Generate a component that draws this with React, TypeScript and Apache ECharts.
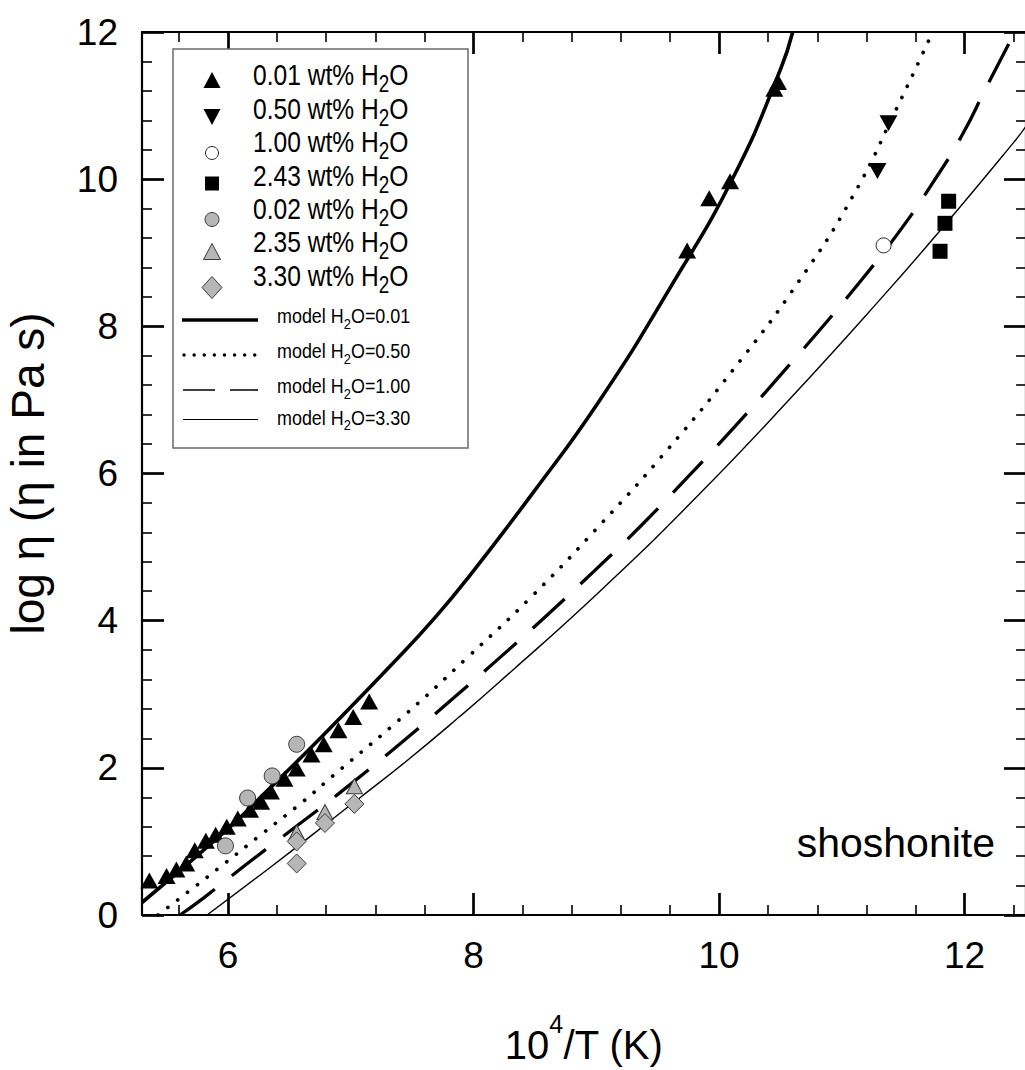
import React, { useEffect, useRef } from "react";
import * as echarts from "echarts";

const FONT = "'Liberation Sans', Arial, sans-serif";

// Axis ticks
const xMajorTicks = [6, 8, 10, 12];
const xMinorTicks = [5.6, 6.4, 6.8, 7.2, 7.6, 8.4, 8.8, 9.2, 9.6, 10.4, 10.8, 11.2, 11.6, 12.4];

// Measured data (x = 10^4/T, y = log eta)
const tri001 = [
  [5.36, 0.47], [5.5, 0.53], [5.58, 0.62], [5.66, 0.7], [5.73, 0.88], [5.82, 1.01], [5.9, 1.09],
  [5.99, 1.2], [6.08, 1.31], [6.18, 1.43], [6.27, 1.54], [6.35, 1.68], [6.46, 1.85], [6.56, 1.99],
  [6.68, 2.18], [6.78, 2.32], [6.9, 2.51], [7.02, 2.69], [7.15, 2.9],
  [9.74, 9.03], [9.92, 9.74], [10.09, 9.97], [10.45, 11.23], [10.48, 11.32],
];
const inv050 = [[11.29, 10.11], [11.38, 10.76]];
const open100 = [[11.34, 9.1]];
const sq243 = [[11.87, 9.7], [11.84, 9.4], [11.8, 9.02]];
const gcirc002 = [[5.98, 0.94], [6.16, 1.59], [6.36, 1.89], [6.56, 2.32]];
const gtri235 = [[6.56, 1.12], [6.79, 1.4], [7.03, 1.75]];
const gdia330 = [[6.56, 1.0], [6.56, 0.7], [6.79, 1.25], [7.03, 1.51]];

// Model curves
const model001 = [
  [5.3, 0.17], [6.0, 1.17], [6.26, 1.59], [6.78, 2.45], [7.4, 3.52], [7.67, 4.01], [7.94, 4.55],
  [8.49, 5.75], [9.03, 7.0], [9.6, 8.52], [10.12, 10.04], [10.5, 11.49], [10.6, 12.0],
];
const model050 = [
  [5.43, 0.0], [5.68, 0.32], [5.98, 0.71], [6.29, 1.12], [6.61, 1.54], [6.84, 1.87], [7.455, 2.74],
  [7.944, 3.49], [8.487, 4.35], [9.03, 5.3], [9.573, 6.31], [10.115, 7.41], [10.645, 8.6],
  [11.09, 9.77], [11.44, 10.94], [11.74, 12.0],
];
const model100 = [
  [5.61, 0.0], [5.8, 0.23], [6.19, 0.74], [6.6, 1.26], [6.91, 1.66], [7.39, 2.31], [7.79, 2.88],
  [8.175, 3.44], [8.57, 4.03], [8.98, 4.67], [9.37, 5.3], [9.75, 5.96], [10.13, 6.64], [10.48, 7.3],
  [10.82, 7.95], [11.15, 8.61], [11.46, 9.27], [11.74, 9.95], [11.98, 10.6], [12.18, 11.26], [12.41, 12.0],
];
const model330 = [
  [5.83, 0.0], [6.37, 0.68], [6.91, 1.38], [7.08, 1.6], [7.46, 2.1], [7.89, 2.7], [8.22, 3.18],
  [9.03, 4.4], [9.84, 5.72], [10.58, 7.02], [11.32, 8.38], [11.8, 9.3], [12.4, 10.5], [12.5, 10.72],
];

const symbolLabels = ["0.01", "0.50", "1.00", "2.43", "0.02", "2.35", "3.30"];
const modelLabels = ["0.01", "0.50", "1.00", "3.30"];

const GRAY = "#b6b6b6";
const GRAY_EDGE = "#3a3a3a";

function legendSymbolText(label: string, y: number) {
  return {
    type: "text",
    x: 253,
    y,
    scaleX: 0.82,
    z: 11,
    style: {
      text: `{a|${label} wt% H}{b|2}{a|O}`,
      align: "left",
      verticalAlign: "middle",
      rich: {
        a: { fontSize: 30, fontFamily: FONT, lineHeight: 41, fill: "#000" },
        b: { fontSize: 23, fontFamily: FONT, lineHeight: 18, verticalAlign: "bottom", fill: "#000" },
      },
    },
  };
}

function legendModelText(label: string, y: number) {
  return {
    type: "text",
    x: 277,
    y,
    scaleX: 0.92,
    z: 11,
    style: {
      text: `{a|model H}{b|2}{a|O=${label}}`,
      align: "left",
      verticalAlign: "middle",
      rich: {
        a: { fontSize: 19.5, fontFamily: FONT, lineHeight: 29, fill: "#000" },
        b: { fontSize: 14, fontFamily: FONT, lineHeight: 9, verticalAlign: "bottom", fill: "#000" },
      },
    },
  };
}

function buildLegend() {
  const symY = [80, 117, 153, 183.5, 219.5, 251.5, 287.5];
  const txtY = [75, 108.5, 142, 175.5, 208.5, 242, 275.5];
  const modY = [316.5, 351.5, 386.5, 418];
  const lineY = [320, 355, 390, 419.5];
  const cx = 212;
  const els: any[] = [
    {
      type: "rect",
      z: 10,
      shape: { x: 173, y: 49, width: 295, height: 399 },
      style: { fill: "#fff", stroke: "#6a6a6a", lineWidth: 1.5 },
    },
    { type: "polygon", z: 11, shape: { points: [[cx - 8.5, symY[0] + 8], [cx + 8.5, symY[0] + 8], [cx, symY[0] - 8]] }, style: { fill: "#000" } },
    { type: "polygon", z: 11, shape: { points: [[cx - 8.5, symY[1] - 8], [cx + 8.5, symY[1] - 8], [cx, symY[1] + 8]] }, style: { fill: "#000" } },
    { type: "circle", z: 11, shape: { cx, cy: symY[2], r: 6.5 }, style: { fill: "#fff", stroke: "#222", lineWidth: 1 } },
    { type: "rect", z: 11, shape: { x: cx - 7, y: symY[3] - 7, width: 14, height: 14 }, style: { fill: "#000" } },
    { type: "circle", z: 11, shape: { cx, cy: symY[4], r: 7 }, style: { fill: GRAY, stroke: GRAY_EDGE, lineWidth: 1 } },
    { type: "polygon", z: 11, shape: { points: [[cx - 8.5, symY[5] + 8], [cx + 8.5, symY[5] + 8], [cx, symY[5] - 8]] }, style: { fill: GRAY, stroke: GRAY_EDGE, lineWidth: 1 } },
    { type: "polygon", z: 11, shape: { points: [[cx - 10, symY[6]], [cx, symY[6] - 11], [cx + 10, symY[6]], [cx, symY[6] + 11]] }, style: { fill: GRAY, stroke: GRAY_EDGE, lineWidth: 1 } },
    { type: "line", z: 11, shape: { x1: 182, y1: lineY[0], x2: 258, y2: lineY[0] }, style: { stroke: "#000", lineWidth: 3.5 } },
    { type: "line", z: 11, shape: { x1: 184, y1: lineY[1], x2: 256, y2: lineY[1] }, style: { stroke: "#000", lineWidth: 3.4, lineDash: [0.1, 10], lineCap: "round" } },
    { type: "line", z: 11, shape: { x1: 183, y1: lineY[2], x2: 258, y2: lineY[2] }, style: { stroke: "#000", lineWidth: 1.6, lineDash: [32, 15] } },
    { type: "line", z: 11, shape: { x1: 183, y1: lineY[3], x2: 258, y2: lineY[3] }, style: { stroke: "#000", lineWidth: 1.2 } },
  ];
  symbolLabels.forEach((l, i) => els.push(legendSymbolText(l, txtY[i])));
  modelLabels.forEach((l, i) => els.push(legendModelText(l, modY[i])));
  els.push({
    type: "text",
    x: 995,
    y: 843,
    z: 11,
    style: { text: "shoshonite", font: `41px ${FONT}`, fill: "#000", align: "right", verticalAlign: "middle" },
  });
  return els;
}

function xAxisDef(position: string, ticks: number[], major: boolean, withLabels: boolean) {
  return {
    type: "value",
    position,
    min: 5.3,
    max: 12.5,
    axisLine: { show: major, onZero: false, lineStyle: { color: "#000", width: 2.2 } },
    axisTick: {
      show: true,
      inside: true,
      length: major ? 22 : 10,
      customValues: ticks,
      lineStyle: { color: "#000", width: major ? 2.7 : 1.6 },
    },
    axisLabel: withLabels
      ? { show: true, customValues: ticks, fontSize: 37, color: "#000", margin: 22, fontFamily: FONT }
      : { show: false },
    splitLine: { show: false },
    ...(withLabels
      ? {
          name: "{a|10}{s|4}{a|/T (K)}",
          nameLocation: "middle",
          nameGap: 96,
          nameTextStyle: {
            rich: {
              a: { fontSize: 40, fontFamily: FONT, color: "#000", lineHeight: 68 },
              s: { fontSize: 25, fontFamily: FONT, color: "#000", lineHeight: 13, verticalAlign: "top" },
            },
          },
        }
      : {}),
  };
}

function yAxisDef(position: string, withLabels: boolean) {
  return {
    type: "value",
    position,
    min: 0,
    max: 12,
    interval: 2,
    axisLine: { show: true, onZero: false, lineStyle: { color: "#000", width: 2.2 } },
    axisTick: { show: true, inside: true, length: 22, lineStyle: { color: "#000", width: 2.7 } },
    minorTick: { show: true, splitNumber: 5, length: 10, lineStyle: { color: "#000", width: 1.6 } },
    axisLabel: withLabels
      ? { show: true, fontSize: 37, color: "#000", margin: 24, fontFamily: FONT }
      : { show: false },
    splitLine: { show: false },
    minorSplitLine: { show: false },
    ...(withLabels
      ? {
          name: "log \u03b7 (\u03b7 in Pa s)",
          nameLocation: "middle",
          nameGap: 91,
          nameTextStyle: { fontSize: 46, fontFamily: FONT, color: "#000" },
        }
      : {}),
  };
}

function scatter(name: string, data: number[][], symbol: string, size: any, color: string, border: string, bw: number, rotate = 0) {
  return {
    type: "scatter",
    name,
    data,
    symbol,
    symbolSize: size,
    symbolRotate: rotate,
    z: 5,
    itemStyle: { color, borderColor: border, borderWidth: bw, opacity: 1 },
    silent: true,
  };
}

function curve(name: string, data: number[][], lineStyle: any) {
  return {
    type: "line",
    name,
    data,
    symbol: "none",
    showSymbol: false,
    smooth: 0.5,
    z: 3,
    silent: true,
    lineStyle: { color: "#000", ...lineStyle },
  };
}

export default function App() {
  const ref = useRef<HTMLDivElement>(null);
  useEffect(() => {
    const chart = echarts.init(ref.current as HTMLDivElement, undefined, { renderer: "svg", width: 1025, height: 1070 });
    const option: any = {
      animation: false,
      backgroundColor: "#ffffff",
      textStyle: { fontFamily: FONT },
      grid: { left: 142, top: 32, right: -1, bottom: 155, containLabel: false, outerBoundsMode: "none" },
      xAxis: [
        xAxisDef("bottom", xMajorTicks, true, true),
        xAxisDef("top", xMajorTicks, true, false),
        xAxisDef("bottom", xMinorTicks, false, false),
        xAxisDef("top", xMinorTicks, false, false),
      ],
      yAxis: [yAxisDef("left", true), yAxisDef("right", false)],
      series: [
        curve("model H2O=0.01", model001, { width: 3.6 }),
        curve("model H2O=0.50", model050, { width: 3.7, type: [0.1, 12.3], cap: "round" }),
        curve("model H2O=1.00", model100, { width: 3.3, type: [43, 22], cap: "butt" }),
        curve("model H2O=3.30", model330, { width: 1.4 }),
        scatter("0.01 wt% H2O", tri001, "triangle", [18, 16], "#000", "#000", 0),
        scatter("0.50 wt% H2O", inv050, "triangle", [18, 16], "#000", "#000", 0, 180),
        scatter("1.00 wt% H2O", open100, "circle", 15, "#fff", "#222", 1),
        scatter("2.43 wt% H2O", sq243, "rect", 15, "#000", "#000", 0),
        scatter("0.02 wt% H2O", gcirc002, "circle", 16, GRAY, GRAY_EDGE, 1),
        scatter("2.35 wt% H2O", gtri235, "triangle", [16, 15], GRAY, GRAY_EDGE, 1),
        scatter("3.30 wt% H2O", gdia330, "diamond", [19, 19], GRAY, GRAY_EDGE, 1),
      ],
      graphic: buildLegend(),
    };
    chart.setOption(option);
    return () => chart.dispose();
  }, []);
  return (
    <div
      ref={ref}
      style={{ position: "absolute", left: 0, top: 0, width: 1025, height: 1070, background: "#fff" }}
    />
  );
}
